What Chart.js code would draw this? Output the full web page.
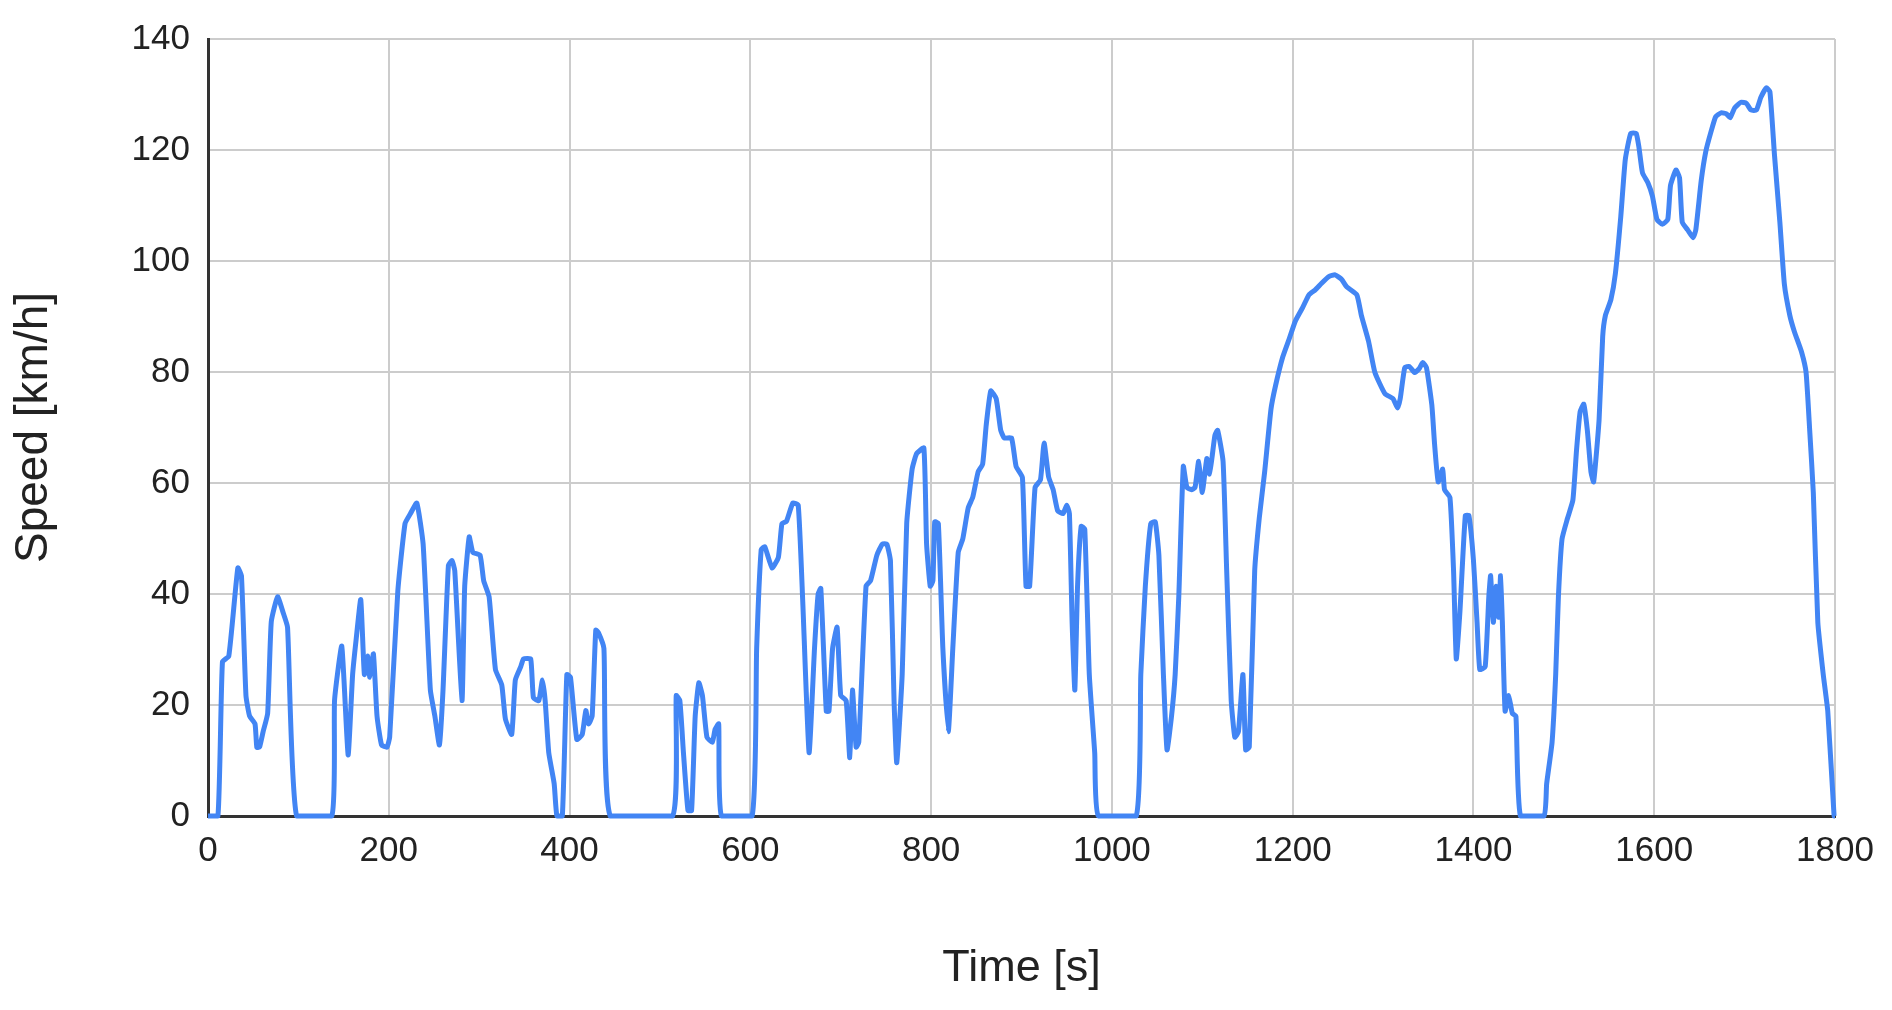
<!DOCTYPE html>
<html lang="en">

<head>
    <meta charset="UTF-8">
    <title>Speed profile</title>
    <script src="https://cdn.jsdelivr.net/npm/chart.js"></script>
    <style>
        body {
            margin: 0;
            background: #fff;
        }

        #speedChart {
            display: block;
        }
    </style>
</head>

<body>
    <canvas id="speedChart" width="1892" height="1010"></canvas>

    <script>
        // time [s] and speed [km/h]
        const times = [
            0, 11, 16, 23, 33, 37, 42, 46, 52, 54, 57, 61, 66, 70, 77, 83, 88, 98,
            137, 140, 148, 155, 160, 164, 169, 173, 177, 179, 183, 187, 192, 198, 201,
            210, 218, 224, 231, 238, 246, 251, 256, 260, 266, 270, 273, 281, 284, 289,
            293, 301, 305, 311, 318, 325, 329, 336, 340, 346, 349, 357, 360, 366, 370,
            373, 377, 383, 386, 392, 397, 401, 408, 414, 418, 421, 425, 429, 432, 438,
            445, 514, 518, 522, 526, 531, 535, 539, 543, 547, 552, 558, 561, 565, 568,
            602, 607, 612, 616, 624, 631, 635, 640, 647, 653, 658, 665, 671, 675, 678,
            684, 687, 691, 696, 700, 706, 710, 713, 717, 720, 728, 733, 740, 746, 751,
            755, 759, 762, 768, 773, 779, 784, 792, 795, 799, 802, 804, 808, 813, 819,
            824, 830, 835, 841, 846, 852, 857, 861, 866, 872, 877, 881, 889, 894, 901,
            905, 909, 915, 921, 925, 930, 935, 940, 946, 950, 953, 956, 959, 962, 966,
            970, 975, 981, 985, 1027, 1032, 1037, 1043, 1048, 1052, 1057, 1061, 1066,
            1070, 1074, 1079, 1083, 1088, 1092, 1096, 1100, 1105, 1108, 1111, 1114,
            1117, 1123, 1127, 1132, 1136, 1140, 1145, 1148, 1152, 1158, 1163, 1169,
            1176, 1181, 1189, 1196, 1203, 1211, 1218, 1225, 1232, 1240, 1247, 1254,
            1260, 1271, 1276, 1284, 1291, 1302, 1311, 1316, 1319, 1324, 1329, 1335,
            1340, 1344, 1348, 1354, 1357, 1361, 1366, 1368, 1374, 1378, 1381, 1385,
            1391, 1395, 1400, 1404, 1407, 1413, 1417, 1419, 1422, 1425, 1428, 1430,
            1432, 1435, 1439, 1443, 1447, 1452, 1478, 1481, 1487, 1491, 1494, 1498,
            1504, 1510, 1514, 1518, 1522, 1526, 1530, 1533, 1539, 1543, 1546, 1552,
            1557, 1563, 1568, 1574, 1580, 1583, 1587, 1593, 1598, 1603, 1609, 1615,
            1618, 1624, 1628, 1631, 1637, 1643, 1646, 1652, 1657, 1663, 1668, 1674,
            1680, 1684, 1689, 1696, 1702, 1707, 1713, 1718, 1724, 1728, 1733, 1739,
            1744, 1750, 1755, 1763, 1768, 1772, 1776, 1781, 1787, 1792, 1799, 1800
        ];

        const speeds = [
            0, 0, 27.8, 28.8, 44.7, 43.3, 21.7, 18, 16.6, 12.4, 12.4, 15.2, 18.5, 35, 39.5, 36.7, 34, 0,
            0, 20.8, 30.6, 11, 25.5, 32, 39, 25.5, 28.8, 25, 29.2, 18, 12.8, 12.4, 14.2,
            40.5, 52.7, 54.5, 56.4, 49, 22.7, 18, 12.8, 22.7, 45.2, 46, 44.2, 20.8, 41.4, 50.3,
            47.5, 47, 42.4, 39.5, 26.4, 23.6, 17.5, 14.7, 24.5, 26.9, 28.3, 28.3, 21.3, 20.8, 24.5,
            20.8, 11.4, 5.8, 0, 0, 25.5, 25, 13.8, 14.7, 19, 16.6, 18, 33.5, 33, 30.2,
            0, 0, 21.7, 20.8, 11.4, 1, 1, 18, 24, 21.7, 14.2, 13.3, 15.6, 16.6, 0,
            0, 30.2, 48, 48.5, 44.7, 46.6, 52.7, 53.1, 56.4, 56, 38.6, 11.4, 30.2, 40, 41,
            18.9, 18.9, 30.2, 34, 21.7, 20.8, 10.5, 22.7, 12.4, 13.3, 41.4, 42.4, 47, 49, 49,
            46, 20.8, 9.6, 25.5, 52.7, 62.5, 65.3, 66.3, 49, 41.4, 42.4, 53, 52.7, 30.2, 15.2,
            30.2, 47.5, 49.9, 55.5, 57.4, 62, 63.4, 70.5, 76.6, 75.2, 69.5, 68.1, 68.1, 63, 61,
            41.4, 41.4, 59.2, 60.6, 67.2, 61.1, 58.8, 55, 54.5, 56, 54.5, 34.9, 22.7, 41.4, 52.2,
            51.7, 25.5, 11.4, 0, 0, 25.5, 41.4, 52.7, 53, 47, 25.5, 11.9, 18,
            25.5, 39.5, 63, 59.2, 58.8, 59.2, 63.9, 58.3, 64.4, 61.6, 64.9, 68.6,
            69.5, 63.9, 44.2, 20.8, 14.2, 15.2, 25.5, 11.9, 12.4, 44.2, 53.6, 62,
            73.3, 77.5, 82.7, 85.9, 89.2, 91.6, 93.9, 94.8, 96, 97.2, 97.5, 96.7,
            95.3, 93.9, 90.2, 85.5, 79.9, 76.1, 75.2, 73.5, 75.2, 80.8, 81, 79.9,
            80.6, 81.7, 80.8, 74, 67, 60.2, 62.5, 58.8, 57.4, 44.2, 28.3, 36.7,
            54.1, 54.1, 46.1, 34.9, 26.4, 26.9, 39.5, 43.3, 34.9, 41.4, 35.8, 43.3,
            34.9, 18.9, 21.7, 18.5, 18, 0, 0, 5.8, 13.3, 25.5, 39.5, 49.9,
            53.6, 56.9, 65.8, 72.8, 74.2, 69.5, 62, 60.2, 71.4, 86.4, 90.2, 93,
            97.7, 108, 118.3, 123, 123, 120.6, 115.9, 114.1, 111.7, 107.5, 106.6, 107.5,
            113.6, 116.4, 115, 107, 105.6, 104.2, 105.6, 114.5, 119.7, 123.4, 126, 126.7,
            126.5, 125.8, 127.6, 128.6, 128.4, 127.2, 127.2, 129.5, 131.2, 130.5, 119.2, 107,
            95.8, 90.2, 87.3, 83.6, 79.9, 69.5, 58.3, 34.9, 25.5, 18.9, 0, 0
        ];

        const points = times.map((t, i) => ({ x: t, y: speeds[i] }));

        const ctx = document.getElementById('speedChart').getContext('2d');
        new Chart(ctx, {
            type: 'line',
            data: {
                datasets: [{
                    label: 'Speed',
                    data: points,
                    borderColor: '#4285F4',
                    borderWidth: 5,
                    borderJoinStyle: 'round',
                    pointRadius: 0,
                    tension: 0.15,
                    fill: false,
                    clip: 5
                }]
            },
            options: {
                responsive: false,
                animation: false,
                layout: {
                    padding: { top: 36, right: 57, left: 0, bottom: 0 }
                },
                plugins: {
                    legend: { display: false },
                    tooltip: { enabled: false }
                },
                scales: {
                    x: {
                        type: 'linear',
                        min: 0,
                        max: 1800,
                        ticks: {
                            stepSize: 200,
                            padding: 14,
                            color: '#222',
                            font: { family: 'Liberation Sans, Arial, sans-serif', size: 35 },
                            callback: function (value) {
                                return String(value); // no thousands separator
                            }
                        },
                        grid: { color: '#cccccc', lineWidth: 2, drawTicks: false },
                        border: { color: '#333333', width: 3 },
                        title: {
                            display: true,
                            text: 'Time [s]',
                            color: '#222',
                            padding: { top: 0, bottom: 14 },
                            font: { family: 'Liberation Sans, Arial, sans-serif', size: 45 }
                        },
                        afterFit: function (scale) {
                            scale.height = 194;
                        }
                    },
                    y: {
                        min: 0,
                        max: 140,
                        ticks: {
                            stepSize: 20,
                            padding: 18,
                            color: '#222',
                            font: { family: 'Liberation Sans, Arial, sans-serif', size: 35 }
                        },
                        grid: { color: '#cccccc', lineWidth: 2, drawTicks: false },
                        border: { color: '#333333', width: 3 },
                        title: {
                            display: true,
                            text: 'Speed [km/h]',
                            color: '#222',
                            padding: { top: 7, bottom: 0 },
                            font: { family: 'Liberation Sans, Arial, sans-serif', size: 46 }
                        },
                        afterFit: function (scale) {
                            scale.width = 208;
                        }
                    }
                }
            }
        });
    </script>
</body>

</html>
